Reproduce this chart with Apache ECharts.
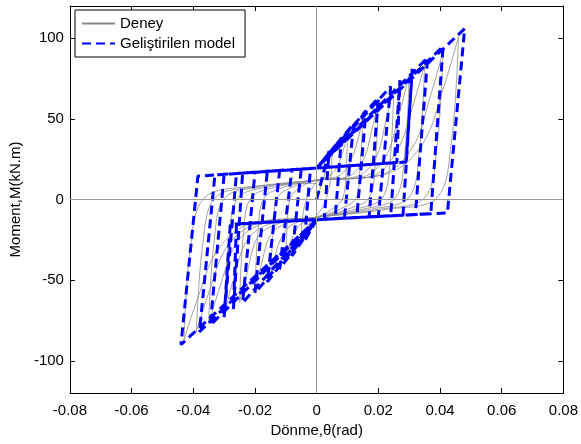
<!DOCTYPE html>
<html><head><meta charset="utf-8">
<script src="https://cdn.jsdelivr.net/npm/echarts@6/dist/echarts.min.js"></script>
<style>html,body{margin:0;padding:0;background:#fff}#c{width:581px;height:444px}</style>
</head><body><div id="c"></div>
<script>
// Series names
const seriesNames = ['Deney', 'Geliştirilen model'];
// Axis ticks
const xTicks = [-0.08, -0.06, -0.04, -0.02, 0, 0.02, 0.04, 0.06, 0.08];
const yTicks = [-100, -50, 0, 50, 100];

// Experimental (Deney) path: [theta, moment]
const deneyPath = [
  [0,0],[0.0025,15],[0.005,29],[0.0045,12],[0.003,0],[0.0015,-6],[0,-10],[-0.0025,-15],[-0.005,-25],[-0.0045,-10],[-0.003,2],[-0.0015,7],[0,11],
  [0.005,16],[0.0075,24],[0.009,33],[0.010,41],[0.0095,16],[0.0085,1],[0.005,-6],[0,-11],[-0.005,-15],[-0.0075,-22],[-0.009,-30],[-0.010,-37],[-0.0095,-14],[-0.0085,1],[-0.005,8],[0,12],
  [0.0075,15],[0.011,24],[0.0135,38],[0.015,52],[0.014,18],[0.0128,1],[0.0075,-6],[0,-11],[-0.0075,-15],[-0.011,-22],[-0.0135,-35],[-0.015,-49],[-0.014,-17],[-0.0128,1],[-0.0075,8],[0,12],
  [0.010,14],[0.015,24],[0.018,44],[0.020,61],[0.019,22],[0.017,1],[0.010,-6],[0,-11],[-0.010,-15],[-0.015,-22],[-0.018,-41],[-0.020,-57],[-0.019,-20],[-0.017,1],[-0.010,8],[0,12],
  [0.0125,14],[0.019,25],[0.0225,49],[0.025,69],[0.0238,24],[0.0213,1],[0.0125,-6],[0,-11],[-0.0125,-15],[-0.019,-23],[-0.0225,-45],[-0.025,-64],[-0.0238,-23],[-0.0213,1],[-0.0125,8],[0,12],
  [0.015,14],[0.0225,27],[0.027,55],[0.030,77],[0.0285,27],[0.0255,1],[0.015,-6],[0,-11],[-0.015,-15],[-0.0225,-25],[-0.027,-50],[-0.030,-71],[-0.0285,-25],[-0.0255,1],[-0.015,8],[0,12],
  [0.0175,14],[0.026,30],[0.0315,60],[0.035,84],[0.0333,30],[0.0298,1],[0.0175,-6],[0,-11],[-0.0175,-15],[-0.026,-27],[-0.0315,-55],[-0.035,-77],[-0.0333,-27],[-0.0298,1],[-0.0175,8],[0,12],
  [0.0205,15],[0.031,32],[0.037,65],[0.041,92],[0.039,33],[0.035,1],[0.0205,-6],[0,-11],[-0.0195,-15],[-0.029,-29],[-0.035,-58],[-0.039,-82],[-0.037,-29],[-0.033,1],[-0.0195,8],[0,12],
  [0.023,16],[0.0345,35],[0.0414,71],[0.046,101],[0.0437,36],[0.039,1],[0.023,-6],[0,-11],[-0.0215,-15],[-0.032,-31],[-0.0387,-62],[-0.043,-87],[-0.041,-31],[-0.0365,1],[-0.0215,8],[0,10]
];

// Developed model (Geliştirilen model) path: [theta, moment]
const modelPath = [
  [0,0],
  [0.004,30],[0.0025,-12.3],[0,-12.5],[-0.004,-26],[-0.002,19.2],[0,19.5],
  [0.008,38],[0.006,-11.9],[0,-12.5],[-0.008,-35],[-0.005,18.9],[0,19.5],
  [0.012,47],[0.009,-11.6],[0,-12.5],[-0.012,-43],[-0.008,18.5],[0,19.5],
  [0.016,55],[0.013,-11.2],[0,-12.5],[-0.016,-51],[-0.012,17.9],[0,19.5],
  [0.020,63],[0.017,-10.8],[0,-12.5],[-0.020,-58],[-0.016,17.4],[0,19.5],
  [0.024,70],[0.020,-10.5],[0,-12.5],[-0.024,-64],[-0.020,16.9],[0,19.5],
  [0.026,22.9],[0.027,74],[0.024,-10.1],[-0.026,-15.1],[-0.027,-68],[-0.024,16.4],[0,19.5],
  [0.029,23.3],[0.031,81],[0.028,-9.7],[-0.028,-15.3],[-0.030,-73],[-0.026,16.1],[0,19.5],
  [0.036,88],[0.032,-9.3],[0,-12.5],[-0.0345,-78],[-0.030,15.6],[0,19.5],
  [0.041,95],[0.037,-8.8],[0,-12.5],[-0.038,-82],[-0.033,15.2],[0,19.5],
  [0.048,106],[0.0424,-8.3],[0,-12.5],[-0.044,-90],[-0.0385,14.5],[0,19.5]
];

const FONT = '"Liberation Sans", Arial, sans-serif';
const chart = echarts.init(document.getElementById('c'), null, {renderer: 'canvas'});
const tickStyle = {inside: true, length: 5, lineStyle: {color: '#000', width: 1}};
chart.setOption({
  animation: false,
  backgroundColor: '#fff',
  grid: {left: 68, right: 16, top: 6, bottom: 51, containLabel: false},
  legend: {
    data: seriesNames,
    orient: 'vertical', left: 75, top: 10,
    itemWidth: 33, itemHeight: 14, itemGap: 5,
    padding: [6, 10, 6, 6],
    borderColor: '#000', borderWidth: 1, backgroundColor: '#fff',
    itemStyle: {opacity: 0},
    textStyle: {fontFamily: FONT, fontSize: 15, color: '#000'}
  },
  xAxis: [{
    type: 'value', min: -0.08, max: 0.08, interval: 0.02, position: 'bottom',
    name: 'Dönme,θ(rad)', nameLocation: 'middle', nameGap: 30,
    nameTextStyle: {fontFamily: FONT, fontSize: 15, color: '#000'},
    axisLine: {onZero: false, lineStyle: {color: '#000', width: 1}},
    axisTick: tickStyle,
    axisLabel: {fontFamily: FONT, fontSize: 15, color: '#000', margin: 10,
      formatter: v => String(+v.toFixed(2))},
    splitLine: {show: false}
  }, {
    type: 'value', min: -0.08, max: 0.08, interval: 0.02, position: 'top',
    axisLine: {onZero: false, lineStyle: {color: '#000', width: 1}},
    axisTick: tickStyle, axisLabel: {show: false}, splitLine: {show: false}
  }],
  yAxis: [{
    type: 'value', min: -120, max: 120, position: 'left',
    name: 'Moment,M(kN.m)', nameLocation: 'middle', nameGap: 42,
    nameTextStyle: {fontFamily: FONT, fontSize: 15, color: '#000'},
    axisLine: {onZero: false, lineStyle: {color: '#000', width: 1}},
    axisTick: Object.assign({customValues: yTicks}, tickStyle),
    axisLabel: {customValues: yTicks, fontFamily: FONT, fontSize: 15, color: '#000', margin: 6},
    splitLine: {show: false}
  }, {
    type: 'value', min: -120, max: 120, position: 'right',
    axisLine: {onZero: false, lineStyle: {color: '#000', width: 1}},
    axisTick: Object.assign({customValues: yTicks}, tickStyle),
    axisLabel: {show: false}, splitLine: {show: false}
  }],
  series: [{
    name: 'zero', type: 'line', data: [], z: 1, silent: true,
    markLine: {silent: true, symbol: 'none', label: {show: false},
      lineStyle: {color: '#9a9a9a', width: 1, type: 'solid'},
      data: [{xAxis: 0}, {yAxis: 0}]}
  }, {
    name: seriesNames[0], type: 'line', data: deneyPath, z: 2,
    symbol: 'none', smooth: 0.35,
    lineStyle: {color: '#8a8a8a', width: 0.8},
    itemStyle: {color: '#8a8a8a'}
  }, {
    name: seriesNames[1], type: 'line', data: modelPath, z: 3,
    symbol: 'none',
    lineStyle: {color: '#0000ff', width: 3, type: [9, 5]},
    itemStyle: {color: '#0000ff'}
  }]
});
</script></body></html>
